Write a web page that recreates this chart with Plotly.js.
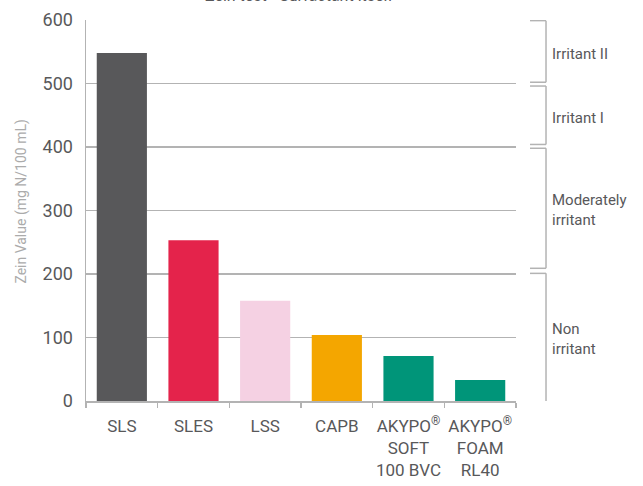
<!DOCTYPE html>
<html>
<head>
<meta charset="utf-8">
<script src="https://cdn.plot.ly/plotly-3.0.1.min.js"></script>
<style>html,body{margin:0;padding:0;background:#fff;}#chart{width:643px;height:486px;}</style>
</head>
<body>
<div id="chart"></div>
<script>
const categories = ["SLS", "SLES", "LSS", "CAPB", "AKYPO<sup>®</sup><br>SOFT<br>100 BVC", "AKYPO<sup>®</sup><br>FOAM<br>RL40"];
const zeinValues = [548, 253, 158, 104, 71, 33];
const barColors = ["#58585a", "#e4234b", "#f5d1e3", "#f4a600", "#009579", "#009579"];
const yTicks = [0, 100, 200, 300, 400, 500, 600];
const classNames = ["Irritant II", "Irritant I", "Moderately<br>irritant", "Non<br>irritant"];
const classLow = [502, 404, 209, -11];
const classHigh = [599, 496, 398, 201];
const classLabelY = [547, 445, 301, 98];

const FONT = "Roboto, 'Liberation Sans', Arial, sans-serif";
const TXT = "#58585a";
const GREY = "#b3b3b3";

const shapes = [];
const annotations = [];
for (let i = 0; i < classNames.length; i++) {
  const x0 = 1.0326, x1 = 1.0698;
  shapes.push({type: "line", xref: "paper", yref: "y", x0: x0, x1: x1, y0: classHigh[i], y1: classHigh[i], line: {color: GREY, width: 1.5}});
  shapes.push({type: "line", xref: "paper", yref: "y", x0: x1, x1: x1, y0: classHigh[i], y1: classLow[i], line: {color: GREY, width: 1.5}});
  shapes.push({type: "line", xref: "paper", yref: "y", x0: x0, x1: x1, y0: classLow[i], y1: classLow[i], line: {color: GREY, width: 1.5}});
  annotations.push({xref: "paper", yref: "y", x: 1.08, y: classLabelY[i], xanchor: "left", yanchor: "middle", align: "left", showarrow: false, text: classNames[i], font: {family: FONT, size: 15, color: TXT}});
}
annotations.push({xref: "paper", yref: "paper", x: -0.15, y: 0.522, textangle: -90, showarrow: false, xanchor: "center", yanchor: "middle", text: "Zein Value (mg N/100 mL)", font: {family: FONT, size: 14, color: "#ababab"}});
annotations.push({xref: "paper", yref: "paper", x: 0.495, y: 1.064, showarrow: false, xanchor: "center", yanchor: "middle", text: "Zein test - Surfactant itself", font: {family: FONT, size: 16, color: TXT}});

const trace = {
  type: "bar",
  x: categories,
  y: zeinValues,
  width: 0.7,
  marker: {color: barColors, line: {width: 0}},
  hoverinfo: "x+y"
};

const layout = {
  width: 643, height: 486,
  margin: {l: 86, r: 127, t: 20, b: 85},
  paper_bgcolor: "#fff", plot_bgcolor: "#fff",
  showlegend: false,
  font: {family: FONT, size: 17, color: TXT},
  xaxis: {
    type: "category",
    range: [-0.5, 5.5],
    showline: true, linecolor: GREY, linewidth: 1.5,
    ticks: "outside", tickson: "boundaries", ticklen: 5, tickcolor: GREY, tickwidth: 1.5,
    tickangle: 0,
    ticklabelstandoff: 9,
    showgrid: false, zeroline: false,
    tickfont: {family: FONT, size: 17, color: TXT},
    fixedrange: true
  },
  yaxis: {
    range: [0, 600],
    tickvals: yTicks,
    ticktext: yTicks.map(String),
    showline: true, linecolor: GREY, linewidth: 1.5,
    showgrid: true, gridcolor: GREY, gridwidth: 1.5,
    zeroline: false,
    ticks: "outside", ticklen: 8, tickcolor: "rgba(0,0,0,0)",
    tickfont: {family: FONT, size: 18, color: TXT},
    fixedrange: true
  },
  shapes: shapes,
  annotations: annotations
};

Plotly.newPlot("chart", [trace], layout, {displayModeBar: false, staticPlot: true});
</script>
</body>
</html>
